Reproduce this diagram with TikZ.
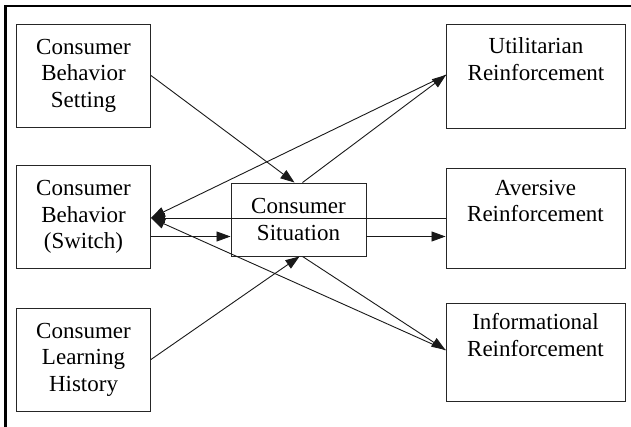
\documentclass[tikz,border=0pt]{standalone}
\usepackage{fontspec}
\setmainfont{Liberation Serif}
\usetikzlibrary{arrows.meta}
\begin{document}
\begin{tikzpicture}[x=1pt,y=-1pt,
  box/.style={draw=black!85,line width=0.95pt,rectangle,align=center,
    inner sep=0pt,font=\fontsize{23}{26.5}\selectfont},
  leftbox/.style={box,minimum width=134pt,minimum height=103pt},
  rightbox/.style={box,minimum width=179pt,minimum height=101pt},
  arr/.style={draw=black!90,line width=0.9pt,-{Triangle[length=14pt,width=10pt]}}]
\useasboundingbox (0,0) rectangle (631,427);
% frame
\draw[line width=2.6pt] (5.5,427) -- (5.5,6) -- (631,6);
% left column
\node[leftbox] (set)  at (83.5,75.5)  {Consumer\\Behavior\\Setting};
\node[leftbox] (sw)   at (83.5,217)   {Consumer\\Behavior\\(Switch)};
\node[leftbox] (hist) at (83.5,359.5) {Consumer\\Learning\\History};
% centre
\node[box,minimum width=135pt,minimum height=73pt] (sit) at (298.5,219.5) {Consumer\\Situation};
% right column
\node[rightbox,minimum height=104pt] (util) at (536,76) {Utilitarian\\Reinforcement\\\strut};
\node[rightbox,minimum height=100pt] (avers) at (535.5,218) {Aversive\\Reinforcement\\\strut};
\node[rightbox,minimum height=98pt] (info) at (535.5,352) {Informational\\Reinforcement\\\strut};
% connectors
\draw[arr] (set.east) -- ([xshift=-4pt]sit.north);
\draw[arr] (hist.east) -- ([xshift=1pt]sit.south);
\draw[arr] ([xshift=4pt]sit.north) -- ([yshift=1pt]util.west);
\draw[arr] ([xshift=4pt]sit.south) -- ([yshift=2pt]info.west);
\draw[arr] ([yshift=-17pt]sit.west -| sw.east) -- ([yshift=-17pt]sit.west);
\draw[arr] ([yshift=-17pt]sit.east) -- ([yshift=-17pt]sit.east -| avers.west);
\draw[arr] ([yshift=1pt]util.west) -- ([yshift=-1pt]sw.east);
\draw[arr] (avers.west) -- (avers.west -| sw.east);
\draw[arr] ([yshift=2pt]info.west) -- ([yshift=-1pt]sw.east);
\end{tikzpicture}
\end{document}
